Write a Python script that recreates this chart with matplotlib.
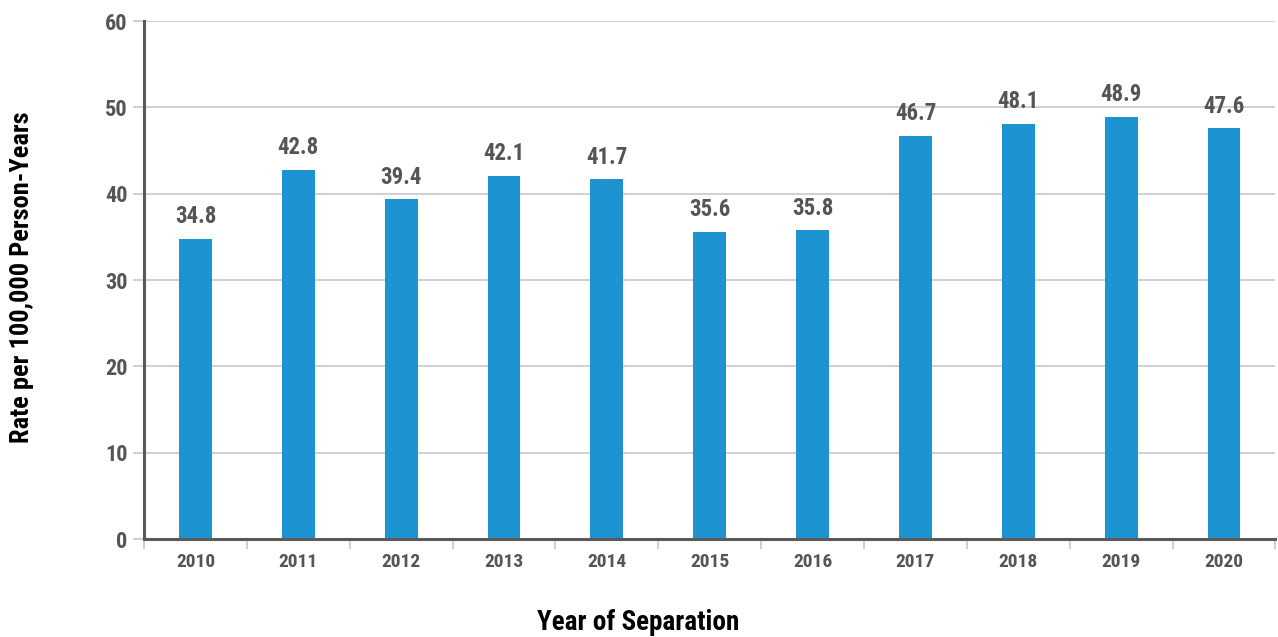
import matplotlib
matplotlib.use("Agg")
import matplotlib.pyplot as plt
from matplotlib import font_manager as fm
import numpy as np

years = ["2010", "2011", "2012", "2013", "2014", "2015", "2016", "2017", "2018", "2019", "2020"]
rates = [34.8, 42.8, 39.4, 42.1, 41.7, 35.6, 35.8, 46.7, 48.1, 48.9, 47.6]
yticks = [0, 10, 20, 30, 40, 50, 60]

names = {f.name for f in fm.fontManager.ttflist}
fam = 'DejaVu Sans'
stretch = 'condensed'
for cand in ['Liberation Sans Narrow', 'Roboto Condensed', 'Open Sans Condensed']:
    if cand in names:
        fam = cand
        break
plt.rcParams['font.family'] = [fam, 'DejaVu Sans']
plt.rcParams['font.weight'] = 'bold'
plt.rcParams['font.stretch'] = stretch
txt = '#555555'

fig = plt.figure(figsize=(12.78, 6.37), dpi=100)
ax = fig.add_axes([0.1127, 0.1538, 0.8853, 0.8132])
x = np.arange(len(years))
ax.bar(x, rates, width=0.32, color='#1E93D1', zorder=3)
for xi, v in zip(x, rates):
    ax.text(xi, v + 1.2, f"{v:.1f}", ha='center', va='bottom', fontsize=16.5, color=txt,
            fontweight='bold', fontstretch=stretch)

ax.set_xlim(-0.5, len(years) - 0.5)
ax.set_ylim(0, 60)
ax.set_yticks(yticks)
ax.set_yticklabels([str(t) for t in yticks], fontsize=16, color=txt, fontweight='bold', fontstretch=stretch)
ax.set_xticks(x)
ax.set_xticklabels(years, fontsize=14, color=txt, fontweight='bold', fontstretch=stretch)
ax.set_xticks(np.arange(-0.5, len(years) + 0.5, 1), minor=True)
ax.tick_params(axis='x', which='major', length=0, pad=10)
ax.tick_params(axis='x', which='minor', length=7, color='#c8c8c8', width=1.2)
ax.tick_params(axis='y', length=8, color='#c8c8c8', width=1.2, pad=4)
ax.grid(axis='y', color='#c8c8c8', linewidth=1.2, zorder=0)
for s in ['top', 'right']:
    ax.spines[s].set_visible(False)
for s in ['left', 'bottom']:
    ax.spines[s].set_color('#5a5a5a')
    ax.spines[s].set_linewidth(2.2)
    ax.spines[s].set_zorder(4)

fig.text(0.499, 1 - 623 / 637, "Year of Separation", ha='center', va='center', fontsize=19.5,
         color='black', fontweight='bold', fontstretch=stretch)
fig.text(22 / 1278, 1 - 277 / 637, "Rate per 100,000 Person-Years", ha='center', va='center',
         rotation=90, fontsize=19, color='black', fontweight='bold', fontstretch=stretch)

fig.savefig("out.png", dpi=100)
